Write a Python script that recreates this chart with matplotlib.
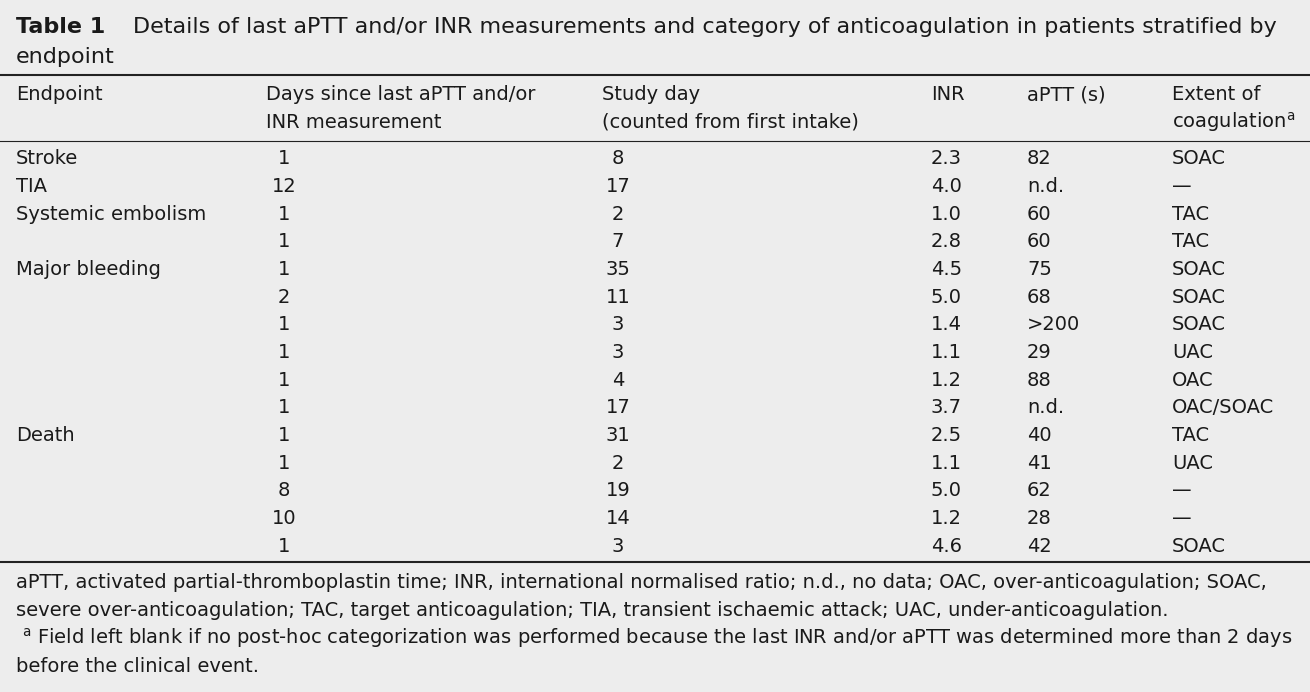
import matplotlib
matplotlib.use("Agg")
import matplotlib.pyplot as plt

endpoints = ["Stroke", "TIA", "Systemic embolism", "", "Major bleeding", "", "", "", "", "", "Death", "", "", "", ""]
days_since = ["1", "12", "1", "1", "1", "2", "1", "1", "1", "1", "1", "1", "8", "10", "1"]
study_day = ["8", "17", "2", "7", "35", "11", "3", "3", "4", "17", "31", "2", "19", "14", "3"]
inr = ["2.3", "4.0", "1.0", "2.8", "4.5", "5.0", "1.4", "1.1", "1.2", "3.7", "2.5", "1.1", "5.0", "1.2", "4.6"]
aptt = ["82", "n.d.", "60", "60", "75", "68", ">200", "29", "88", "n.d.", "40", "41", "62", "28", "42"]
extent = ["SOAC", "\u2014", "TAC", "TAC", "SOAC", "SOAC", "SOAC", "UAC", "OAC", "OAC/SOAC", "TAC", "UAC", "\u2014", "\u2014", "SOAC"]

fig = plt.figure(figsize=(13.1, 6.92), dpi=100, facecolor="#ededed")
ax = fig.add_axes([0, 0, 1, 1])
ax.set_xlim(0, 1310); ax.set_ylim(692, 0); ax.axis("off")
ax.set_facecolor("#ededed")
fs = 14
kw = dict(fontsize=fs, color="#1a1a1a", family="DejaVu Sans", va="center")
tkw = dict(kw); tkw["fontsize"] = 16

ax.text(16, 27, "Table 1", fontsize=16, fontweight="bold", color="#1a1a1a", va="center")
ax.text(133, 27, "Details of last aPTT and/or INR measurements and category of anticoagulation in patients stratified by", **tkw)
ax.text(16, 57, "endpoint", **tkw)

ax.plot([0, 1310], [75, 75], color="#222", lw=1.5)
ax.plot([0, 1310], [141, 141], color="#222", lw=0.8)
ax.plot([0, 1310], [562, 562], color="#222", lw=1.5)

ax.text(16, 95, "Endpoint", **kw)
ax.text(266, 95, "Days since last aPTT and/or", **kw)
ax.text(266, 122, "INR measurement", **kw)
ax.text(602, 95, "Study day", **kw)
ax.text(602, 122, "(counted from first intake)", **kw)
ax.text(931, 95, "INR", **kw)
ax.text(1027, 95, "aPTT (s)", **kw)
ax.text(1172, 95, "Extent of", **kw)
ax.text(1172, 122, "coagulation$^{\\mathrm{a}}$", **kw)

y0, dy = 159, 27.65
for i in range(len(inr)):
    y = y0 + i * dy
    ax.text(16, y, endpoints[i], **kw)
    ax.text(284, y, days_since[i], ha="center", **kw)
    ax.text(618, y, study_day[i], ha="center", **kw)
    ax.text(931, y, inr[i], **kw)
    ax.text(1027, y, aptt[i], **kw)
    ax.text(1172, y, extent[i], **kw)

ax.text(16, 583, "aPTT, activated partial-thromboplastin time; INR, international normalised ratio; n.d., no data; OAC, over-anticoagulation; SOAC,", **kw)
ax.text(16, 610, "severe over-anticoagulation; TAC, target anticoagulation; TIA, transient ischaemic attack; UAC, under-anticoagulation.", **kw)
ax.text(22, 638, "$^{\\mathrm{a}}$ Field left blank if no post-hoc categorization was performed because the last INR and/or aPTT was determined more than 2 days", **kw)
ax.text(16, 666, "before the clinical event.", **kw)

fig.savefig("out.png", dpi=100, facecolor=fig.get_facecolor())
